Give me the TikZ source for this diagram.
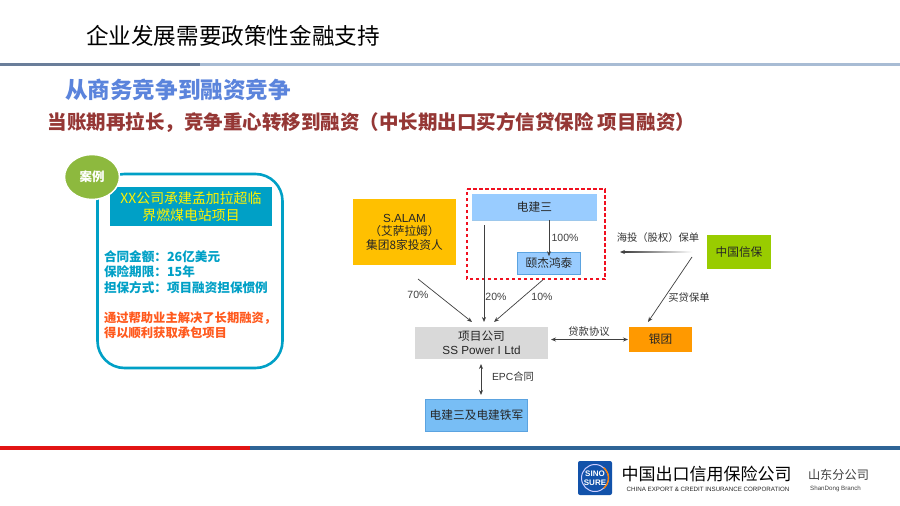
\documentclass[tikz,border=0pt]{standalone}
\usepackage{fontspec}
\setmainfont{Noto Sans CJK SC}
\newfontfamily\lat{Liberation Sans}
\usetikzlibrary{arrows.meta,calc}
\definecolor{caseblue}{HTML}{00A0C6}
\definecolor{casegreen}{HTML}{8DB93E}
\definecolor{liteblue}{HTML}{99CCFF}
\definecolor{edgeblue}{HTML}{5BA3E0}
\definecolor{arrowgray}{HTML}{404040}
\definecolor{dashred}{HTML}{F01020}
\tikzset{
  x=1pt,y=-1pt,
  every node/.style={inner sep=0pt,outer sep=0pt,align=center,text=black!85},
  flowbox/.style={minimum width=#1,font=\fontsize{11.7}{13.5}\selectfont},
  lab/.style={font=\fontsize{10.3}{13}\selectfont,text=black!80},
  pct/.style={font=\lat\fontsize{10.5}{13}\selectfont,text=black!75},
  arr/.style={draw=arrowgray,line width=0.7pt,-{Stealth[length=5pt,width=4pt]}},
  darr/.style={draw=arrowgray,line width=0.8pt,{Stealth[length=5pt,width=4pt]}-{Stealth[length=5pt,width=4pt]}},
  facts/.style={anchor=west,align=left,font=\bfseries\fontsize{12.6}{15.2}\selectfont,text=caseblue},
  redframe/.style={color=dashred,line width=1.4pt,dash pattern=on 3.5pt off 2.5pt},
}
\begin{document}
\begin{tikzpicture}
\useasboundingbox[fill=white] (0,0) rectangle (900,506);
% top
\node[text=black,font=\fontsize{22.6}{26}\selectfont] (title) at (233,36) {企业发展需要政策性金融支持};
\fill[color={rgb,255:red,168;green,188;blue,212}] (200,62.5) rectangle (900,66);
\fill[color={rgb,255:red,106;green,126;blue,154}] (0,62.5) rectangle (200,66);
\node[text={rgb,255:red,91;green,132;blue,220},font=\bfseries\fontsize{22.6}{26}\selectfont] (sub) at (178,90) {从商务竞争到融资竞争};
\node[text={rgb,255:red,149;green,55;blue,53},font=\bfseries\fontsize{19.5}{24}\selectfont] (head) at (371.5,122) {当账期再拉长，竞争重心转移到融资（中长期出口买方信贷保险 项目融资）};
% case panel
\draw[caseblue,line width=2.6pt,rounded corners=27pt,fill=white] (97.5,174) rectangle (282.5,368);
\fill[caseblue] (110,187) rectangle (272,226);
\node[text=yellow,font=\fontsize{13.9}{16.5}\selectfont] (casetitle) at (191,206.5) {XX公司承建孟加拉超临\\界燃煤电站项目};
\fill[casegreen,draw=white,line width=1.5pt] (92,177) ellipse [x radius=27.5,y radius=22.5];
\node[text=white,font=\bfseries\fontsize{12.5}{15}\selectfont] (casetag) at (92,177) {案例};
\node[facts] (facts) at (104,272) {合同金额：26亿美元\\保险期限：15年\\担保方式：项目融资担保惯例};
\node[facts,text={rgb,255:red,255;green,90;blue,30},font=\bfseries\fontsize{12.3}{15}\selectfont] (result) at (104,325.5) {通过帮助业主解决了长期融资，\\得以顺利获取承包项目};
% boxes
\fill[color={rgb,255:red,255;green,192;blue,0}] (353,199) rectangle (456,265);
\node[flowbox=103pt,minimum height=66pt] (salam) at (404.5,232) {{\lat S.ALAM}\\（艾萨拉姆）\\集团8家投资人};
\fill[liteblue] (472,194) rectangle (597,220);
\draw[edgeblue!60,line width=0.5pt] (472,220) -- (597,220);
\node[flowbox=125pt,minimum height=26pt] (dj) at (534.5,207) {电建三};
\fill[liteblue,draw=edgeblue,line width=0.8pt] (517.5,252.5) rectangle (580.5,274);
\node[flowbox=63pt,minimum height=21.5pt] (yj) at (549,263) {颐杰鸿泰};
\fill[black!15] (415,327) rectangle (548,359);
\node[flowbox=133pt,minimum height=32pt] (proj) at (481.5,343) {项目公司\\{\lat SS Power I Ltd}};
\fill[color={rgb,255:red,255;green,153;blue,0}] (629,327) rectangle (692,352);
\node[flowbox=63pt,minimum height=25pt] (bank) at (660.5,339.5) {银团};
\fill[color={rgb,255:red,153;green,204;blue,0}] (707,235) rectangle (771,269);
\node[flowbox=64pt,minimum height=34pt] (sino) at (739,252) {中国信保};
\fill[color={rgb,255:red,120;green,190;blue,245},draw=edgeblue,line width=0.8pt] (425.5,399.5) rectangle (527.5,431);
\node[flowbox=103pt,minimum height=32pt] (epc) at (476.5,415) {电建三及电建铁军};
% red frame
\draw[redframe] (467,189) -- (605,189) -- (605,279) -- (467,279) -- cycle;
% connectors
\draw[arr] ([shift={(13.5,14)}]salam.south) -- ([shift={(-9.5,-5)}]proj.north);
\draw[arr] ([shift={(-50.5,5)}]dj.south) -- ([shift={(2.5,-5)}]proj.north);
\draw[arr] ([shift={(-6,6)}]yj.south) -- ([shift={(12.5,-5)}]proj.north);
\draw[arr] (dj.south -| yj.north) -- ([yshift=-4]yj.north);
\draw[arr] ([shift={(-15,0)}]sino.west) -- (620,252);
\shade[left color=arrowgray,right color=white,draw=none] (624,251.5) rectangle (692.5,252.6);
\draw[arr] ([shift={(-15,5)}]sino.west) -- ([shift={(-12.5,-5)}]bank.north);
\draw[darr] ([xshift=3]proj.east |- bank.west) -- ([xshift=-1]bank.west);
\draw[darr] ([shift={(-0.5,5)}]proj.south) -- ([shift={(4.5,-4)}]epc.north);
% labels
\node[pct] (p70) at (418,295) {70\%};
\node[pct] (p20) at (496,297) {20\%};
\node[pct] (p10) at (542,297) {10\%};
\node[pct] (p100) at (565,238) {100\%};
\node[lab] (l1) at (658,238) {海投（股权）保单};
\node[lab] (l2) at (689,298) {买贷保单};
\node[lab] (l3) at (589,332) {贷款协议};
\node[lab] (l4) at (513,377) {{\lat EPC}合同};
% footer
\fill[color={rgb,255:red,226;green,20;blue,20}] (0,446) rectangle (250,450);
\fill[color={rgb,255:red,46;green,100;blue,150}] (250,446) rectangle (900,450);
\fill[color={rgb,255:red,18;green,82;blue,170},rounded corners=2pt] (578,461) rectangle (612,495);
\draw[white!80!blue,line width=1pt] (595,478) circle (13.5);
\draw[orange,line width=1.3pt] (595,478) ++(-50:13.5) arc (-50:50:13.5);
\node[text=white,font=\lat\bfseries\fontsize{8}{8.5}\selectfont] (sinotxt) at (595,478) {SINO\\SURE};
\node[text=black,font=\fontsize{17}{20}\selectfont] (cn) at (706.5,474) {中国出口信用保险公司};
\node[font=\lat\fontsize{6.2}{8}\selectfont] (en) at (708,489) {CHINA EXPORT \& CREDIT INSURANCE CORPORATION};
\node[text=black!75,font=\fontsize{12.2}{15}\selectfont] (br) at (838.5,475) {山东分公司};
\node[text=black!75,font=\lat\fontsize{6.2}{8}\selectfont] (bren) at (835.5,489) {ShanDong Branch};
\end{tikzpicture}
\end{document}
